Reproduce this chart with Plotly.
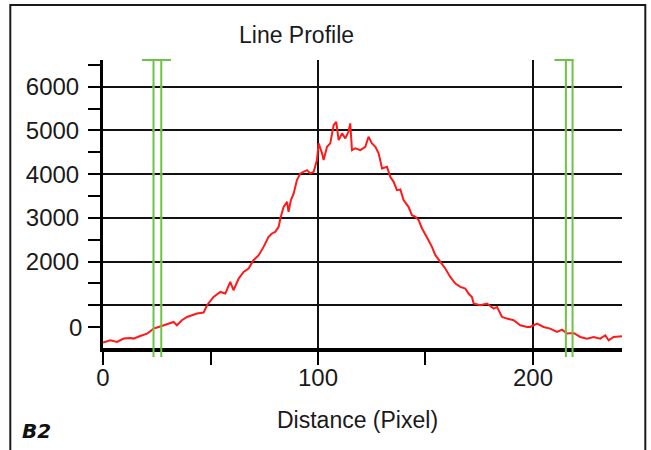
import plotly.graph_objects as go

# ---- data ----
distance = [0, 3.4, 6.5, 9.6, 12.7, 14.2, 17.3, 20.5, 22.0, 23.5, 25.9, 28.2, 31.3, 32.8, 34.4,
            36.7, 39.1, 41.4, 43.7, 46.8, 48.4, 51.4, 54.6, 56.9, 59.2, 60.7, 63.1, 65.4, 67.7,
            70.0, 72.4, 74.7, 77.0, 78.6, 80.1, 81.7, 82.5, 84.0, 85.6, 86.3, 87.4, 88.7, 90.2,
            91.8, 93.3, 94.9, 96.4, 98.0, 99.5, 100.3, 101.9, 102.6, 104.2, 105.7, 107.3, 108.5,
            109.6, 111.2, 112.7, 114.2, 115.0, 115.8, 117.3, 119.7, 122.0, 123.5, 125.1, 126.7,
            128.2, 129.8, 132.1, 133.6, 135.2, 136.7, 138.3, 139.8, 142.1, 143.7, 145.3, 146.8,
            148.4, 149.9, 151.4, 153.0, 154.6, 156.9, 159.2, 161.5, 163.9, 166.2, 168.5, 170.0,
            171.6, 172.4, 175.5, 178.6, 181.7, 183.3, 185.6, 187.9, 191.0, 194.1, 197.2, 198.7,
            201.9, 204.9, 208.0, 211.2, 213.5, 215.8, 218.9, 222.0, 225.1, 228.2, 231.3, 233.6,
            235.2, 237.5, 241.4]
intensity = [146, 199, 160, 238, 252, 238, 298, 353, 405, 467, 504, 543, 582, 618, 543,
             657, 733, 772, 811, 834, 1001, 1191, 1305, 1269, 1534, 1344, 1612, 1763, 1841,
             2031, 2146, 2336, 2565, 2643, 2679, 2794, 2986, 3252, 3366, 3137, 3405, 3559, 3863,
             4017, 4053, 4092, 4017, 4053, 4321, 4704, 4475, 4321, 4626, 4704, 5123, 5198,
             4779, 4933, 4818, 4969, 5162, 4550, 4589, 4550, 4626, 4855, 4704, 4626,
             4475, 4131, 4168, 3939, 3824, 3634, 3650, 3405, 3252, 3062, 3023, 2947,
             2757, 2603, 2489, 2336, 2146, 1992, 1841, 1649, 1498, 1420, 1383, 1269,
             1191, 1040, 1001, 1040, 925, 962, 733, 696, 657, 543, 504, 504,
             582, 504, 467, 389, 444, 353, 366, 275, 238, 275, 238, 314,
             199, 275, 291]

cursor_x = [23.5, 27.1, 215.3, 218.4]
cursor_bars = [(18.1, 31.6), (210.0, 218.9)]

y_major = [1000, 2000, 3000, 4000, 5000, 6000]
y_major_text = ["", "2000", "3000", "4000", "5000", "6000"]
y_minor = [500, 1500, 2500, 3500, 4500, 5500, 6500]
x_major = [0, 100, 200]
x_major_text = ["0", "100", "200"]
x_minor = [50, 150]

title_text = "Line Profile"
x_title = "Distance (Pixel)"
panel_label = "B2"

FONT = "Liberation Sans, Arial, sans-serif"
GREEN = "#6cc444"

fig = go.Figure()

fig.add_trace(go.Scatter(x=distance, y=intensity, mode="lines",
                         line=dict(color="#ff1a1a", width=2), hoverinfo="skip"))

# small magenta dots where cursors cross gridlines
dx, dy = [], []
for cx in cursor_x:
    for gy in y_major:
        dx.append(cx)
        dy.append(gy)
fig.add_trace(go.Scatter(x=dx, y=dy, mode="markers",
                         marker=dict(color="#b040c0", size=3), hoverinfo="skip"))

shapes = []
for cx in cursor_x:
    shapes.append(dict(type="line", xref="x", yref="paper", x0=cx, x1=cx, y0=-0.031, y1=1.0,
                       line=dict(color=GREEN, width=2), layer="above"))
for b0, b1 in cursor_bars:
    shapes.append(dict(type="line", xref="x", yref="paper", x0=b0, x1=b1, y0=1.0, y1=1.0,
                       line=dict(color=GREEN, width=2), layer="above"))
# outer frame
shapes.append(dict(type="rect", xref="paper", yref="paper", x0=-0.1786, x1=1.0449,
                   y0=-0.40, y1=1.1912, line=dict(color="#1a1a1a", width=2),
                   fillcolor="rgba(0,0,0,0)", layer="below"))

fig.update_layout(
    width=651, height=450,
    margin=dict(l=103, r=29, t=60, b=102),
    paper_bgcolor="white", plot_bgcolor="white",
    showlegend=False,
    shapes=shapes,
    font=dict(family=FONT, color="#1a1a1a", size=24),
    xaxis=dict(range=[0, 241.4], tickmode="array", tickvals=x_major, ticktext=x_major_text,
               showgrid=True, gridcolor="#111111", gridwidth=2, zeroline=False,
               showline=True, linecolor="#000000", linewidth=4,
               ticks="outside", ticklen=13, tickwidth=2, tickcolor="#000000",
               ticklabelstandoff=-8, tickfont=dict(size=24),
               minor=dict(tickmode="array", tickvals=x_minor, ticks="outside", ticklen=13,
                          tickwidth=2, tickcolor="#000000", showgrid=False)),
    yaxis=dict(range=[23, 6611], tickmode="array", tickvals=y_major, ticktext=y_major_text,
               showgrid=True, gridcolor="#111111", gridwidth=2, zeroline=False,
               showline=True, linecolor="#000000", linewidth=3,
               ticks="outside", ticklen=12, tickwidth=2, tickcolor="#000000",
               ticklabelstandoff=4, tickfont=dict(size=24),
               minor=dict(tickmode="array", tickvals=y_minor, ticks="outside", ticklen=12,
                          tickwidth=2, tickcolor="#000000", showgrid=False)),
    annotations=[
        dict(text=title_text, xref="paper", yref="paper", x=0.3734, y=1.0869,
             xanchor="center", yanchor="middle", showarrow=False, font=dict(size=23)),
        dict(text=x_title, xref="paper", yref="paper", x=0.491, y=-0.2513,
             xanchor="center", yanchor="middle", showarrow=False, font=dict(size=23)),
        dict(text="0", xref="paper", yref="y", x=0, y=500, xanchor="right", yanchor="middle",
             xshift=-19, showarrow=False, font=dict(size=24)),
        dict(text="<b><i>" + panel_label + "</i></b>", xref="paper", yref="paper",
             x=-0.1272, y=-0.2895, xanchor="center", yanchor="middle", showarrow=False,
             font=dict(size=20, family="DejaVu Sans, sans-serif", color="#111111")),
    ],
)

fig.write_html("out.html", config={"displayModeBar": False},
               post_script="document.body.style.margin='0px';")
